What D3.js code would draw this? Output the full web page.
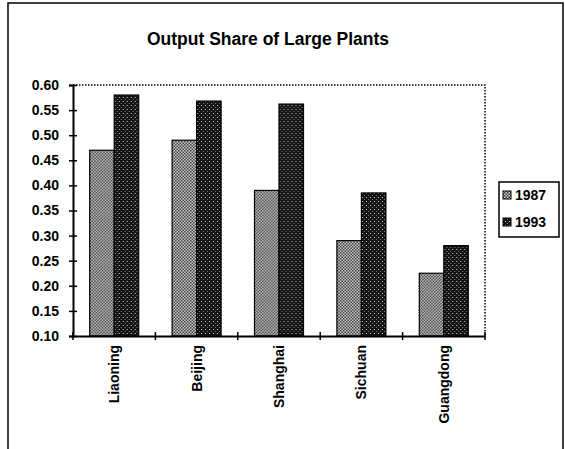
<!DOCTYPE html>
<html>
<head>
<meta charset="utf-8">
<script src="https://cdn.jsdelivr.net/npm/d3@7"></script>
<style>
  body { margin: 0; background: #fff; }
  text { font-family: "Liberation Sans", Arial, sans-serif; }
</style>
</head>
<body>
<svg id="canvas" width="565" height="449"></svg>
<script>
// chart data
let provinces = ["Liaoning", "Beijing", "Shanghai", "Sichuan", "Guangdong"];
let years = ["1987", "1993"];
let share1987 = [0.47, 0.49, 0.39, 0.29, 0.225];
let share1993 = [0.58, 0.568, 0.562, 0.385, 0.28];
let yTicks = [0.10, 0.15, 0.20, 0.25, 0.30, 0.35, 0.40, 0.45, 0.50, 0.55, 0.60];

let canvas = d3.select("#canvas");

let plotLeft = 73, plotRight = 485, plotTop = 85, plotBottom = 336;

let xScale = d3.scaleBand().domain(provinces).range([plotLeft, plotRight]).paddingInner(0).paddingOuter(0);
let xInner = d3.scaleBand().domain(years).range([0, 49]);
let yScale = d3.scaleLinear().domain([0.10, 0.60]).range([plotBottom, plotTop]);

// fill patterns (scanned halftone look)
let defs = canvas.append("defs");
let p1 = defs.append("pattern").attr("id", "pat1987")
  .attr("width", 3).attr("height", 3).attr("patternUnits", "userSpaceOnUse");
p1.append("rect").attr("width", 3).attr("height", 3).attr("fill", "#d8d8d8");
p1.append("rect").attr("x", 0).attr("y", 0).attr("width", 1.5).attr("height", 1.5).attr("fill", "#333");
p1.append("rect").attr("x", 1.5).attr("y", 1.5).attr("width", 1.5).attr("height", 1.5).attr("fill", "#333");

let p2 = defs.append("pattern").attr("id", "pat1993")
  .attr("width", 4).attr("height", 4).attr("patternUnits", "userSpaceOnUse");
p2.append("rect").attr("width", 4).attr("height", 4).attr("fill", "#111");
p2.append("rect").attr("x", 1).attr("y", 1).attr("width", 1).attr("height", 1).attr("fill", "#ddd");
p2.append("rect").attr("x", 3).attr("y", 3).attr("width", 1).attr("height", 1).attr("fill", "#888");

let fills = { "1987": "url(#pat1987)", "1993": "url(#pat1993)" };

// outer frame
canvas.append("path")
  .attr("d", "M8,449 L8,3 L563,3 L563,449")
  .attr("fill", "none").attr("stroke", "#000").attr("stroke-width", 1.5);

// title
canvas.append("text")
  .attr("x", 268).attr("y", 45)
  .attr("text-anchor", "middle")
  .attr("font-size", 17.5).attr("font-weight", "bold")
  .text("Output Share of Large Plants");

// dotted plot-area border (top and right)
canvas.append("path")
  .attr("d", `M${plotLeft},${plotTop} L${plotRight},${plotTop} L${plotRight},${plotBottom}`)
  .attr("fill", "none").attr("stroke", "#000")
  .attr("stroke-width", 1.5).attr("stroke-dasharray", "1.5,1.5");

// bars
let rows = provinces.map((p, i) => ({ name: p, values: [share1987[i], share1993[i]] }));

let groups = canvas.selectAll("g.group")
  .data(rows)
  .enter()
  .append("g")
  .attr("class", "group")
  .attr("transform", (d) => `translate(${xScale(d.name) + (xScale.bandwidth() - 49) / 2},0)`);

groups.selectAll("rect")
  .data((d) => d.values.map((v, j) => ({ year: years[j], value: v })))
  .enter()
  .append("rect")
  .attr("x", (d) => xInner(d.year))
  .attr("y", (d) => yScale(d.value))
  .attr("width", xInner.bandwidth())
  .attr("height", (d) => plotBottom - yScale(d.value))
  .attr("fill", (d) => fills[d.year])
  .attr("stroke", "#000")
  .attr("stroke-width", 1.2);

// y axis
let yAxis = canvas.append("g")
  .attr("transform", `translate(${plotLeft},0)`)
  .call(d3.axisLeft(yScale).tickValues(yTicks).tickFormat(d3.format(".2f")).tickSize(4).tickPadding(10));
yAxis.select(".domain").attr("stroke-width", 2);
yAxis.selectAll(".tick line").attr("x2", 4).attr("x1", -4).attr("stroke-width", 1.5);
yAxis.selectAll(".tick text")
  .attr("font-size", 14).attr("font-weight", "bold")
  .attr("font-family", "'Liberation Sans', Arial, sans-serif");

// x axis
let xAxis = canvas.append("g")
  .attr("transform", `translate(0,${plotBottom})`)
  .call(d3.axisBottom(xScale).tickSize(0).tickFormat(""));
xAxis.select(".domain").attr("stroke-width", 2);
xAxis.selectAll(".tick").remove();

let bounds = provinces.map((p) => xScale(p)).concat([plotRight]);
xAxis.selectAll("line.bound")
  .data(bounds)
  .enter()
  .append("line")
  .attr("class", "bound")
  .attr("x1", (d) => d).attr("x2", (d) => d)
  .attr("y1", -4).attr("y2", 4)
  .attr("stroke", "#000").attr("stroke-width", 1.5);

xAxis.selectAll("text.cat")
  .data(provinces)
  .enter()
  .append("text")
  .attr("class", "cat")
  .attr("transform", (d) => `translate(${xScale(d) + xScale.bandwidth() / 2 + 5},9) rotate(-90)`)
  .attr("text-anchor", "end")
  .attr("fill", "#000")
  .attr("font-size", 14).attr("font-weight", "bold")
  .attr("font-family", "'Liberation Sans', Arial, sans-serif")
  .text((d) => d);

// legend
let legend = canvas.append("g");
legend.append("rect")
  .attr("x", 499).attr("y", 182).attr("width", 60).attr("height", 55)
  .attr("fill", "#fff").attr("stroke", "#000").attr("stroke-width", 1.5);

let legendY = d3.scalePoint().domain(years).range([195, 222]);

legend.selectAll("rect.swatch")
  .data(years)
  .enter()
  .append("rect")
  .attr("class", "swatch")
  .attr("x", 503).attr("y", (d) => legendY(d) - 4)
  .attr("width", 8).attr("height", 8)
  .attr("fill", (d) => fills[d])
  .attr("stroke", "#000");

legend.selectAll("text")
  .data(years)
  .enter()
  .append("text")
  .attr("x", 515).attr("y", (d) => legendY(d) + 5)
  .attr("font-size", 14).attr("font-weight", "bold")
  .text((d) => d);
</script>
</body>
</html>
